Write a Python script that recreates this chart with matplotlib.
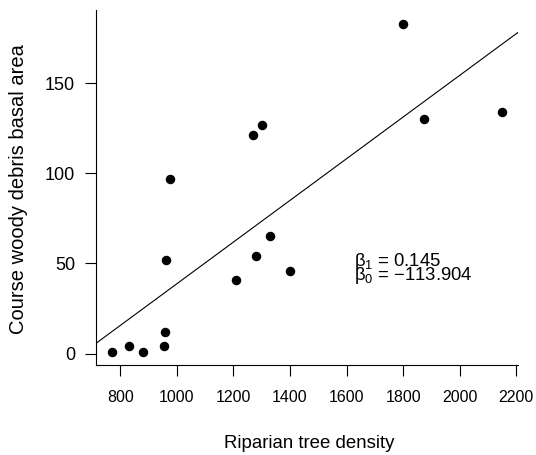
"""Scatter of coarse woody debris basal area against riparian tree density, R-style."""

import matplotlib
matplotlib.use('Agg')
import matplotlib.pyplot as plt

plt.rcParams['font.family'] = ['Liberation Sans', 'DejaVu Sans']
plt.rcParams['mathtext.fontset'] = 'custom'
plt.rcParams['mathtext.rm'] = 'Liberation Sans'
plt.rcParams['mathtext.it'] = 'Liberation Sans'

# values
tree_density = [771, 832, 882, 954, 959, 962, 974, 1208, 1268, 1279,
                1300, 1328, 1400, 1800, 1874, 2150]
debris_area = [1, 4, 1, 4, 12, 52, 97, 41, 121, 54,
               127, 65, 46, 183, 130, 134]

# fitted line as drawn in the reference
line_slope = 0.1156
line_intercept = -76.9
coef_labels = [r'$\beta_1$ = 0.145', r'$\beta_0$ = $-$113.904']

x_ticks = [800, 1000, 1200, 1400, 1600, 1800, 2000, 2200]
y_ticks = [0, 50, 100, 150]

fig = plt.figure(figsize=(5.36, 4.55), dpi=100)
ax = fig.add_axes([0.179, 0.198, 0.787, 0.78])

ax.scatter(tree_density, debris_area, s=34, color='black', zorder=3)

xmin, xmax = 714, 2205
ax.set_xlim(xmin, xmax)
ax.set_ylim(-6.3, 190.5)
ax.plot([xmin, xmax],
        [line_intercept + line_slope * xmin, line_intercept + line_slope * xmax],
        color='black', lw=0.8)

ax.text(1626, 48.3, coef_labels[0], fontsize=13.3, va='baseline', ha='left')
ax.text(1626, 40.6, coef_labels[1], fontsize=13.3, va='baseline', ha='left')

ax.set_xticks(x_ticks)
ax.set_yticks(y_ticks)
ax.tick_params(direction='out', length=8, width=0.8)
ax.tick_params(axis='x', labelsize=11.5, pad=10)
ax.tick_params(axis='y', labelsize=13, pad=7)

for side in ['top', 'right']:
    ax.spines[side].set_visible(False)
for side in ['left', 'bottom']:
    ax.spines[side].set_linewidth(0.8)

fig.text(0.5763, 0.025, 'Riparian tree density', fontsize=13.4,
         ha='center', va='center')
fig.text(0.0336, 0.5835, 'Course woody debris basal area', fontsize=14.5,
         ha='center', va='center', rotation=90)

fig.savefig('out.png', dpi=100)
